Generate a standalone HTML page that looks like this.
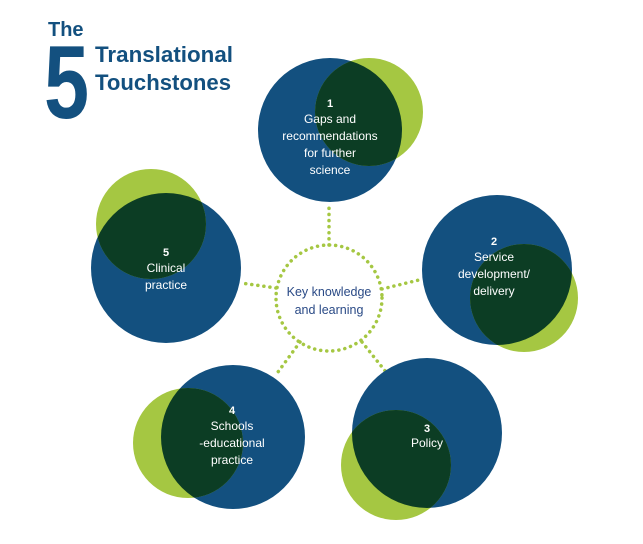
<!DOCTYPE html>
<html><head><meta charset="utf-8"><style>
html,body{margin:0;padding:0;background:#fff;width:643px;height:544px;overflow:hidden}
svg{display:block}
text{font-family:"Liberation Sans",sans-serif}
</style></head><body>
<svg width="643" height="544" viewBox="0 0 643 544" xmlns="http://www.w3.org/2000/svg">
<defs>
<clipPath id="c1"><circle cx="330" cy="130" r="72"/></clipPath>
<clipPath id="c2"><circle cx="497" cy="270" r="75"/></clipPath>
<clipPath id="c3"><circle cx="427" cy="433" r="75"/></clipPath>
<clipPath id="c4"><circle cx="233" cy="437" r="72"/></clipPath>
<clipPath id="c5"><circle cx="166" cy="268" r="75"/></clipPath>
</defs>
<g stroke="#a5c742" stroke-width="3.5" stroke-dasharray="0.1 6" stroke-linecap="round" fill="none">
<circle cx="329" cy="298" r="53"/>
<line x1="329" y1="245" x2="329" y2="205"/>
<line x1="382" y1="289" x2="423" y2="279"/>
<line x1="362" y1="342" x2="386" y2="372"/>
<line x1="300" y1="342" x2="278" y2="372"/>
<line x1="276" y1="288" x2="241" y2="283"/>
</g>
<g fill="#13507f">
<circle cx="330" cy="130" r="72"/><circle cx="497" cy="270" r="75"/><circle cx="427" cy="433" r="75"/><circle cx="233" cy="437" r="72"/><circle cx="166" cy="268" r="75"/>
</g>
<g fill="#a5c742">
<circle cx="369" cy="112" r="54"/><circle cx="524" cy="298" r="54"/><circle cx="396" cy="465" r="55"/><circle cx="188" cy="443" r="55"/><circle cx="151" cy="224" r="55"/>
</g>
<g fill="#0c3d24">
<circle cx="369" cy="112" r="54" clip-path="url(#c1)"/>
<circle cx="524" cy="298" r="54" clip-path="url(#c2)"/>
<circle cx="396" cy="465" r="55" clip-path="url(#c3)"/>
<circle cx="188" cy="443" r="55" clip-path="url(#c4)"/>
<circle cx="151" cy="224" r="55" clip-path="url(#c5)"/>
</g>
<g fill="#fff" font-size="12" text-anchor="middle">
<text x="330" y="107" font-weight="bold" font-size="11">1</text>
<text x="330" y="123">Gaps and</text>
<text x="330" y="140">recommendations</text>
<text x="330" y="157">for further</text>
<text x="330" y="174">science</text>
<text x="494" y="245" font-weight="bold" font-size="11">2</text>
<text x="494" y="261">Service</text>
<text x="494" y="278">development/</text>
<text x="494" y="295">delivery</text>
<text x="427" y="432" font-weight="bold" font-size="11">3</text>
<text x="427" y="447">Policy</text>
<text x="232" y="414" font-weight="bold" font-size="11">4</text>
<text x="232" y="430">Schools</text>
<text x="232" y="447">-educational</text>
<text x="232" y="464">practice</text>
<text x="166" y="256" font-weight="bold" font-size="11">5</text>
<text x="166" y="272">Clinical</text>
<text x="166" y="289">practice</text>
</g>
<g fill="#2a4a86" font-size="12.5" text-anchor="middle">
<text x="329" y="296">Key knowledge</text>
<text x="329" y="314">and learning</text>
</g>
<g fill="#13507f" font-weight="bold">
<text x="48" y="36" font-size="20">The</text>
<text transform="translate(44,118) scale(0.78,1)" font-size="104">5</text>
<text x="95" y="62" font-size="22" textLength="138" lengthAdjust="spacingAndGlyphs">Translational</text>
<text x="95" y="90" font-size="22" textLength="136" lengthAdjust="spacingAndGlyphs">Touchstones</text>
</g>
</svg>
</body></html>
